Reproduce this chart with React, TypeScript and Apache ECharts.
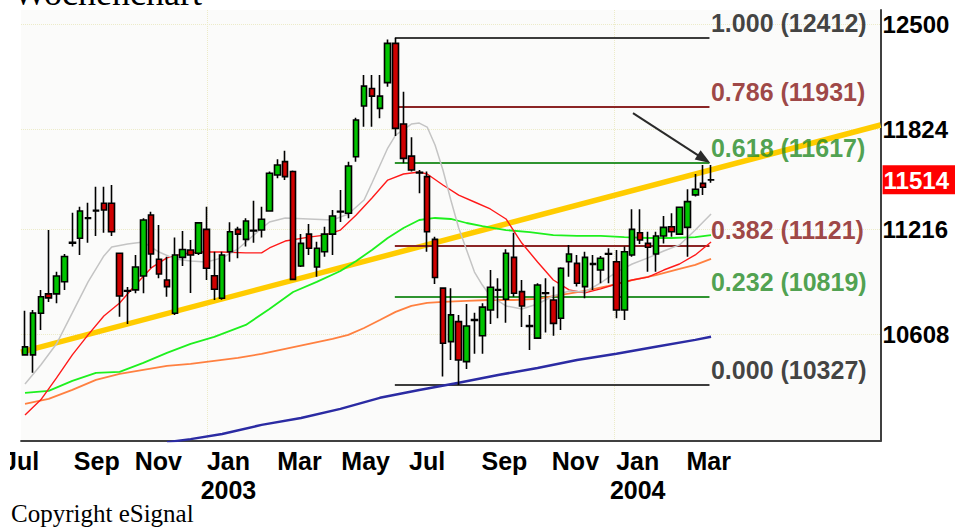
import React, { useEffect, useRef } from 'react';
import * as echarts from 'echarts';

// weekly candles: [open, close, low, high]
const weekly: number[][] = [
  [10493, 10538, 10488, 10741], [10493, 10729, 10394, 10746], [10727, 10822, 10633, 10861], [10838, 10815, 10792, 11211],
  [10838, 10941, 10784, 10966], [10908, 11055, 10861, 11070], [11133, 11139, 11113, 11315], [11162, 11325, 11064, 11351],
  [11284, 11280, 11136, 11375], [11325, 11329, 11176, 11472], [11371, 11331, 11195, 11472], [11371, 11201, 11176, 11482],
  [11074, 10826, 10708, 11076], [10853, 10857, 10667, 10878], [10861, 10994, 10842, 11064], [10941, 11271, 10842, 11282],
  [11301, 11070, 10986, 11321], [11039, 10953, 10928, 11241], [10918, 10880, 10822, 11054], [10727, 11064, 10718, 11167],
  [11050, 11096, 11000, 11205], [11093, 11064, 10843, 11152], [11074, 11254, 11064, 11258], [11215, 10986, 10918, 11351],
  [10943, 10865, 10803, 11083], [10813, 11064, 10805, 11083], [11083, 11201, 11024, 11258], [11215, 11187, 11045, 11231],
  [11156, 11265, 11113, 11282], [11205, 11209, 11136, 11387], [11211, 11275, 11167, 11351], [11325, 11554, 11321, 11564],
  [11543, 11604, 11523, 11639], [11625, 11533, 11512, 11693], [11564, 10922, 10918, 11570], [10999, 11132, 10994, 11187],
  [11187, 11103, 11064, 11247], [10994, 11103, 10937, 11142], [11083, 11187, 11054, 11231], [11187, 11295, 11064, 11331],
  [11319, 11323, 11259, 11452], [11311, 11598, 11282, 11625], [11655, 11884, 11625, 11899], [11973, 12100, 11842, 12171],
  [12085, 12036, 11842, 12171], [11958, 12036, 11895, 12171], [12122, 12377, 12096, 12403], [12377, 11832, 11784, 12412],
  [11859, 11645, 11615, 12064], [11659, 11574, 11564, 11776], [11556, 11560, 11432, 11574], [11533, 11201, 11083, 11564],
  [11156, 10933, 10895, 11171], [10871, 10558, 10373, 10876], [10567, 10718, 10465, 10871], [10680, 10465, 10327, 10718],
  [10456, 10655, 10415, 10780], [10687, 10691, 10499, 10730], [10600, 10762, 10499, 10784], [10746, 10876, 10667, 10976],
  [10859, 10863, 10699, 10928], [10807, 11074, 10674, 11097], [11050, 10842, 10822, 11195], [10851, 10769, 10650, 10918],
  [10653, 10657, 10521, 10718], [10587, 10889, 10585, 10899], [10840, 10844, 10618, 10928], [10803, 10670, 10600, 10880],
  [10699, 10986, 10633, 10992], [11024, 11070, 10937, 11123], [11015, 10899, 10880, 11064], [10880, 11050, 10813, 11083],
  [11009, 11013, 10861, 11064], [10976, 11045, 10899, 11058], [11068, 11072, 10899, 11103], [11024, 10746, 10699, 11093],
  [10746, 11083, 10689, 11113], [11064, 11215, 11054, 11335], [11195, 11152, 11128, 11335], [11132, 11109, 10966, 11201],
  [11070, 11176, 10966, 11201], [11176, 11227, 11132, 11295], [11231, 11201, 11171, 11311], [11187, 11347, 11181, 11351],
  [11227, 11381, 11054, 11456], [11422, 11456, 11412, 11549], [11492, 11468, 11422, 11604], [11512, 11514, 11496, 11604],
];

// moving averages: [week index, value]
const greyMA: number[][] = [
  [0, 10333], [2, 10437], [4, 10555], [6, 10729], [8, 10907], [10, 11058], [11, 11111], [13, 11128], [15, 11140],
  [17, 11081], [19, 11041], [21, 11029], [23, 11023], [25, 11047], [27, 11099], [29, 11181], [31, 11259], [33, 11283],
  [36, 11277], [39, 11271], [41, 11307], [43, 11391], [44, 11494], [46, 11709], [47, 11790], [49, 11859], [50, 11865],
  [51, 11840], [52, 11728], [53, 11574], [54, 11391], [55, 11223], [56, 11093], [57, 10964], [58, 10889], [59, 10826],
  [61, 10769], [63, 10752], [65, 10780], [67, 10826], [69, 10855], [71, 10849], [73, 10901], [75, 10964], [77, 11011],
  [79, 11047], [81, 11087], [83, 11123], [85, 11211], [87, 11307],
];
const redMA: number[][] = [
  [0, 10164], [2, 10246], [4, 10366], [6, 10493], [8, 10605], [10, 10712], [12, 10786], [14, 10889], [16, 10988],
  [18, 11047], [20, 11070], [22, 11081], [25, 11081], [28, 11076], [30, 11076], [31, 11105], [33, 11146], [36, 11169],
  [38, 11181], [40, 11211], [42, 11301], [44, 11403], [46, 11512], [48, 11549], [50, 11561], [51, 11549], [53, 11482],
  [55, 11421], [57, 11379], [59, 11337], [61, 11277], [63, 11134], [65, 11023], [67, 10918], [69, 10861], [71, 10844],
  [73, 10867], [75, 10895], [77, 10918], [79, 10935], [81, 10976], [83, 11011], [85, 11064], [87, 11140],
];
const greenMA: number[][] = [
  [0, 10284], [3, 10295], [6, 10350], [9, 10394], [12, 10399], [15, 10449], [18, 10504], [21, 10555], [24, 10594],
  [28, 10661], [31, 10752], [34, 10849], [37, 10907], [40, 10970], [42, 11029], [44, 11093], [46, 11164], [48, 11223],
  [50, 11271], [52, 11283], [54, 11277], [56, 11253], [58, 11235], [61, 11211], [64, 11199], [67, 11181], [70, 11176],
  [73, 11176], [76, 11169], [79, 11164], [82, 11164], [85, 11169], [87, 11181],
];
const orangeMA: number[][] = [
  [0, 10224], [3, 10251], [6, 10300], [9, 10355], [12, 10388], [15, 10410], [18, 10432], [21, 10443], [24, 10460],
  [27, 10476], [30, 10499], [33, 10527], [36, 10555], [39, 10583], [41, 10605], [43, 10644], [45, 10689], [47, 10735],
  [49, 10769], [51, 10786], [53, 10792], [56, 10798], [59, 10803], [62, 10803], [65, 10809], [68, 10832], [71, 10855],
  [74, 10884], [77, 10918], [80, 10947], [83, 10982], [85, 11006], [87, 11041],
];
const blueMA: number[][] = [
  [18, 10019], [21, 10035], [25, 10062], [30, 10111], [35, 10148], [40, 10197], [45, 10257], [50, 10300], [55, 10339],
  [60, 10382], [65, 10421], [70, 10465], [75, 10499], [80, 10538], [85, 10577], [87, 10594],
];
const trendLine: number[][] = [[-0.5, 10509], [108.5, 11853]];

// Fibonacci retracement
const fibRatios = ['1.000', '0.786', '0.618', '0.382', '0.232', '0.000'];
const fibLevels = [12412, 11966, 11617, 11121, 10819, 10327];
const fibLabelValues = [12412, 11931, 11617, 11121, 10819, 10327];
const fibSpan = [46.9, 86.8];

// axes
const yMin = 10025;
const yMax = 12598;
const monthTickPos = [-0.5, 9.1, 16.9, 25.8, 34.8, 43.2, 51.0, 60.8, 69.8, 77.7, 86.7];
const monthTickLabels = ['Jul', 'Sep', 'Nov', 'Jan\n2003', 'Mar', 'May', 'Jul', 'Sep', 'Nov', 'Jan\n2004', 'Mar'];
const yTickValues = [10608, 11216, 11824, 12500];
const lastClose = 11514;
const gridWeeks = [23.1, 74.7];
const arrowFrom = [77.1, 11928];
const arrowTo = [86.1, 11641];

const fibLineColors = ['#3c3c3c', '#8b2525', '#2f9430', '#8b2525', '#2f9430', '#3c3c3c'];
const fibTextColors = ['#111111', '#861616', '#238a23', '#861616', '#238a23', '#111111'];

const SANS = '"Liberation Sans", Arial, sans-serif';
const SERIF = '"Liberation Serif", "Times New Roman", serif';

export default function App() {
  const ref = useRef<HTMLDivElement>(null);
  useEffect(() => {
    if (!ref.current) return;
    const chart = echarts.init(ref.current, undefined, { renderer: 'svg' });
    const line = (data: number[][], color: string, width: number, extra: any = {}) => ({
      type: 'line',
      data,
      symbol: 'none',
      silent: true,
      lineStyle: { color, width },
      z: 2,
      ...extra,
    });
    const xMin = -0.5;
    const xMax = 108.5;
    chart.setOption({
      animation: false,
      backgroundColor: '#ffffff',
      grid: {
        left: 10,
        right: 72,
        top: 10,
        bottom: 87,
        show: true,
        backgroundColor: '#fbfbfa',
        borderWidth: 0,
        borderColor: 'transparent',
      },
      xAxis: {
        type: 'value',
        min: xMin,
        max: xMax,
        splitLine: { show: false },
        axisTick: { show: false },
        axisLine: { show: true, onZero: false, lineStyle: { color: '#404040', width: 2 } },
        axisLabel: {
          customValues: monthTickPos,
          alignMinLabel: 'center',
          alignMaxLabel: 'center',
          formatter: (v: number) => {
            const k = monthTickPos.findIndex((p) => Math.abs(p - v) < 0.01);
            return k >= 0 ? monthTickLabels[k] : '';
          },
          fontFamily: SANS,
          fontWeight: 'bold',
          fontSize: 25,
          lineHeight: 29,
          color: '#000',
          margin: 5,
        },
      },
      yAxis: {
        type: 'log',
        logBase: 10,
        min: yMin,
        max: yMax,
        position: 'right',
        splitLine: { show: false },
        axisTick: { show: false },
        axisLine: { show: true, onZero: false, lineStyle: { color: '#404040', width: 2 } },
        axisLabel: {
          customValues: [...yTickValues, lastClose],
          formatter: (v: number) => (Math.abs(v - lastClose) < 0.5 ? `{hl|${lastClose}}` : `${Math.round(v)}`),
          fontFamily: SANS,
          fontWeight: 'bold',
          fontSize: 24,
          color: '#000',
          margin: 2,
          rich: {
            hl: {
              backgroundColor: '#ff0000',
              color: '#ffffff',
              fontFamily: SANS,
              fontWeight: 'bold',
              fontSize: 24,
              padding: [3, 6, 2, 1],
            },
          },
        },
      },
      series: [
        line(trendLine, '#ffcc00', 5.5, {
          z: 1,
          markLine: {
            silent: true,
            z: 6,
            symbol: ['none', 'triangle'],
            symbolSize: [11, 15],
            label: { show: false },
            lineStyle: { color: '#2a2a2a', width: 2, type: 'solid' },
            data: [[{ coord: arrowFrom }, { coord: arrowTo }]],
          },
        }),
        line(blueMA, '#2b2ba3', 2.5),
        line(orangeMA, '#ff8040', 1.8),
        line(greenMA, '#1ef01e', 1.8),
        line(redMA, '#ff1a1a', 1.4),
        line(greyMA, '#c4c4c4', 1.5, {
          markLine: {
            silent: true,
            z: 0,
            symbol: ['none', 'none'],
            label: { show: false },
            lineStyle: { color: '#ecebc8', width: 1, type: 'dotted' },
            data: [
              ...gridWeeks.map((w) => [{ coord: [w, yMin] }, { coord: [w, yMax] }]),
              ...yTickValues.map((v) => [{ coord: [xMin, v] }, { coord: [xMax, v] }]),
            ],
          },
        }),
        {
          type: 'candlestick',
          data: weekly.map((d, i) => [i, ...d]),
          encode: { x: 0, y: [1, 2, 3, 4] },
          barWidth: 6,
          silent: true,
          z: 3,
          itemStyle: {
            color: '#00c400',
            color0: '#d00000',
            borderColor: '#000000',
            borderColor0: '#000000',
            borderWidth: 1.6,
          },
          markLine: {
            silent: true,
            z: 2,
            symbol: ['none', 'none'],
            label: { show: false },
            data: fibLevels.map((lvl, k) => [
              { coord: [fibSpan[0], lvl], lineStyle: { color: fibLineColors[k], width: 2, type: 'solid' } },
              { coord: [fibSpan[1], lvl] },
            ]),
          },
        },
        {
          type: 'scatter',
          silent: true,
          symbolSize: 1,
          itemStyle: { color: 'transparent' },
          z: 5,
          data: fibLevels.map((lvl, k) => ({
            value: [fibSpan[1], lvl],
            label: {
              show: true,
              position: 'right',
              distance: 1,
              offset: [0, -15],
              formatter: `${fibRatios[k]} (${fibLabelValues[k]})`,
              color: fibTextColors[k],
              fontFamily: SANS,
              fontWeight: 'bold',
              fontSize: 25,
            },
          })),
        },
      ],
      graphic: [
        {
          type: 'rect',
          left: 0,
          top: 443,
          shape: { width: 10, height: 36 },
          style: { fill: '#ffffff' },
          z: 100,
        },
        {
          type: 'text',
          x: 13,
          y: -7.5,
          style: { text: 'Wochenchart', font: `36px ${SERIF}`, fill: '#000', verticalAlign: 'middle', align: 'left' },
          z: 100,
        },
        {
          type: 'text',
          x: 11,
          y: 513.5,
          style: { text: 'Copyright eSignal', font: `25px ${SERIF}`, fill: '#000', verticalAlign: 'middle', align: 'left' },
          z: 100,
        },
      ],
    });
    return () => chart.dispose();
  }, []);
  return <div ref={ref} style={{ position: 'fixed', left: 0, top: 0, width: 958, height: 528 }} />;
}
